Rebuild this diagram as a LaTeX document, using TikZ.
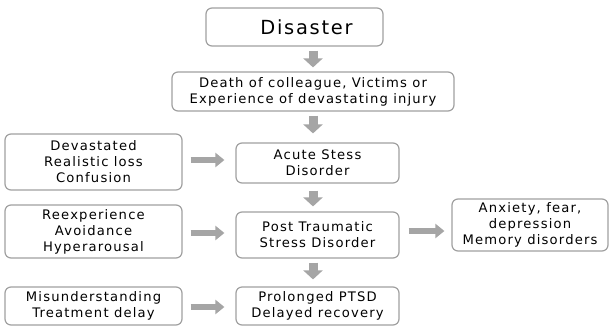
\documentclass[tikz,border=0pt]{standalone}
\usepackage{fontspec}
\setmainfont{DejaVu Sans}[LetterSpace=9]
\usetikzlibrary{arrows.meta}
\definecolor{boxgray}{RGB}{160,160,160}
\definecolor{arrgray}{RGB}{165,165,165}
\tikzset{
  box/.style={draw=boxgray, line width=1.2bp, rounded corners=6bp, fill=white, align=center,
    inner sep=0pt, font=\fontsize{13.2}{16}\selectfont, text=black},
  barrow/.style={draw=arrgray, line width=6bp, -{Triangle[width=14bp,length=9bp]}},
  varrow/.style={draw=arrgray, line width=9bp, -{Triangle[width=19bp,length=9bp]}},
}
\begin{document}
\begin{tikzpicture}[x=1bp,y=-1bp]
\useasboundingbox (0,0) rectangle (613,329);
\node[box, minimum width=177bp, minimum height=38bp, font=\fontsize{19.5}{23}\selectfont] (dis) at (294.5,27) {\hspace*{24bp}Disaster};
\node[box, minimum width=282bp, minimum height=39bp] (death) at (313,91.5) {Death of colleague, Victims or\\Experience of devastating injury};
\node[box, minimum width=163bp, minimum height=40bp] (acute) at (317.5,163) {Acute Stess\\Disorder};
\node[box, minimum width=177bp, minimum height=56bp] (dev) at (93.5,162) {Devastated\\Realistic loss\\Confusion};
\node[box, minimum width=163bp, minimum height=46bp] (ptsd) at (317.5,235) {Post Traumatic\\Stress Disorder};
\node[box, minimum width=177bp, minimum height=53bp] (reex) at (93.5,231.5) {Reexperience\\Avoidance\\Hyperarousal};
\node[box, minimum width=156bp, minimum height=52bp] (anx) at (530,225) {Anxiety, fear,\\depression\\Memory disorders};
\node[box, minimum width=163bp, minimum height=38bp] (prol) at (317.5,306) {Prolonged PTSD\\Delayed recovery};
\node[box, minimum width=177bp, minimum height=38bp] (mis) at (93.5,306) {Misunderstanding\\Treatment delay};
\draw[varrow, shorten <=4bp, shorten >=4bp] (dis.south -| 313,0) -- (death.north -| 313,0);
\draw[varrow, shorten <=4bp, shorten >=9bp] (death.south -| 313,0) -- (acute.north -| 313,0);
\draw[varrow, shorten <=7bp, shorten >=5bp] (acute.south -| 313,0) -- (ptsd.north -| 313,0);
\draw[varrow, shorten <=4bp, shorten >=7bp] (ptsd.south -| 313,0) -- (prol.north -| 313,0);
\draw[barrow, shorten <=8bp, shorten >=11bp] (dev.east |- 0,160) -- (acute.west |- 0,160);
\draw[barrow, shorten <=8bp, shorten >=11bp] (reex.east |- 0,233) -- (ptsd.west |- 0,233);
\draw[barrow, shorten <=8bp, shorten >=11bp] (mis.east |- 0,307) -- (prol.west |- 0,307);
\draw[barrow, shorten <=9bp, shorten >=7bp] (ptsd.east |- 0,231) -- (anx.west |- 0,231);
\end{tikzpicture}
\end{document}
